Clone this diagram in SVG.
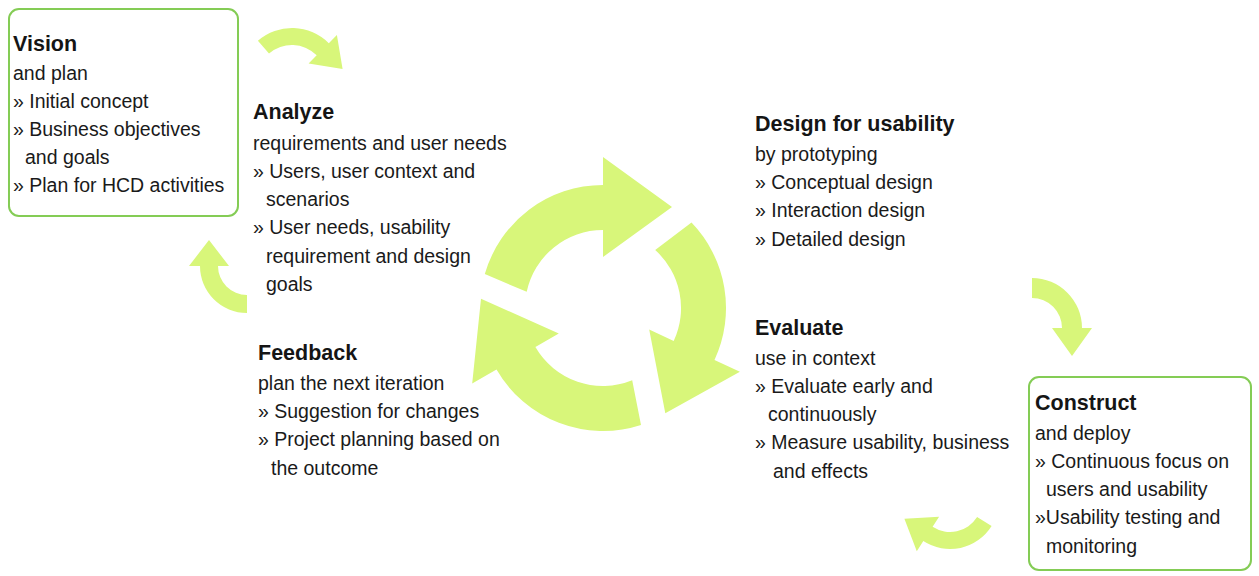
<svg xmlns="http://www.w3.org/2000/svg" width="1259" height="576" viewBox="0 0 1259 576">
<style>
.t{font-family:"Liberation Sans",Arial,sans-serif;font-size:21.5px;font-weight:bold;fill:#151515}
.b{font-family:"Liberation Sans",Arial,sans-serif;font-size:19.5px;fill:#1a1a1a}
.box{fill:#ffffff;stroke:#84cc55;stroke-width:2}
.arr{fill:#d8f67a;stroke:none}
</style>
<rect width="1259" height="576" fill="#ffffff"/>
<g id="connectors">
<path class="arr" d="M484.8,274.1 A123,123 0 0 1 603,185 L603,157 L672,207 L603,257 L603,230 A78,78 0 0 0 526.7,291.8 Z"/>
<path class="arr" d="M691.5,222.6 A123,123 0 0 1 714.5,360 L739.9,371.8 L665.3,413.2 L649.2,329.6 L673.7,341 A78,78 0 0 0 655.2,250 Z"/>
<path class="arr" d="M641,425 A123,123 0 0 1 496.5,369.5 L472.2,383.5 L481,298.7 L558.8,333.5 L535.4,347 A78,78 0 0 0 632.2,380.3 Z"/>
<path class="arr" d="M257.9,40.8 A52,52 0 0 1 328.8,43.2 L336.9,35.1 L342.6,69 L308.6,63.4 L316.7,55.3 A35,35 0 0 0 269,53.6 Z"/>
<path class="arr" d="M247,313 A47,47 0 0 1 200,266 L189,266 L209,240 L229,266 L218,266 A29,29 0 0 0 247,295 Z"/>
<path class="arr" d="M1032,278 A50,50 0 0 1 1082,328 L1092,328 L1072,356 L1052,328 L1062,328 A30,30 0 0 0 1032,298 Z"/>
<path class="arr" d="M991.6,526 A49,49 0 0 1 923.3,541.1 L916.8,551.2 L904.4,518.8 L939.1,516.8 L932.6,526.8 A32,32 0 0 0 977.1,517 Z"/>
</g>
<g id="vision">
<rect class="box" x="9" y="9" width="229" height="207" rx="10"/>
<text class="t" x="13" y="51">Vision</text>
<text class="b" x="13" y="80">and plan</text>
<text class="b" x="13" y="108">» Initial concept</text>
<text class="b" x="13" y="136">» Business objectives</text>
<text class="b" x="25" y="164">and goals</text>
<text class="b" x="13" y="192">» Plan for HCD activities</text>
</g>
<g id="analyze">
<text class="t" x="253" y="119">Analyze</text>
<text class="b" x="253" y="150">requirements and user needs</text>
<text class="b" x="253" y="178">» Users, user context and</text>
<text class="b" x="266" y="206">scenarios</text>
<text class="b" x="253" y="234">» User needs, usability</text>
<text class="b" x="266" y="263">requirement and design</text>
<text class="b" x="266" y="291">goals</text>
</g>
<g id="design">
<text class="t" x="755" y="131">Design for usability</text>
<text class="b" x="755" y="161">by prototyping</text>
<text class="b" x="755" y="189">» Conceptual design</text>
<text class="b" x="755" y="217">» Interaction design</text>
<text class="b" x="755" y="246">» Detailed design</text>
</g>
<g id="evaluate">
<text class="t" x="755" y="335">Evaluate</text>
<text class="b" x="755" y="365">use in context</text>
<text class="b" x="755" y="393">» Evaluate early and</text>
<text class="b" x="768" y="421">continuously</text>
<text class="b" x="755" y="449">» Measure usability, business</text>
<text class="b" x="773" y="478">and effects</text>
</g>
<g id="feedback">
<text class="t" x="258" y="360">Feedback</text>
<text class="b" x="258" y="390">plan the next iteration</text>
<text class="b" x="258" y="418">» Suggestion for changes</text>
<text class="b" x="258" y="446">» Project planning based on</text>
<text class="b" x="271" y="475">the outcome</text>
</g>
<g id="construct">
<rect class="box" x="1029" y="377" width="222" height="193" rx="10"/>
<text class="t" x="1035" y="410">Construct</text>
<text class="b" x="1035" y="440">and deploy</text>
<text class="b" x="1035" y="468">» Continuous focus on</text>
<text class="b" x="1046" y="496">users and usability</text>
<text class="b" x="1035" y="524">»Usability testing and</text>
<text class="b" x="1046" y="553">monitoring</text>
</g>
</svg>
